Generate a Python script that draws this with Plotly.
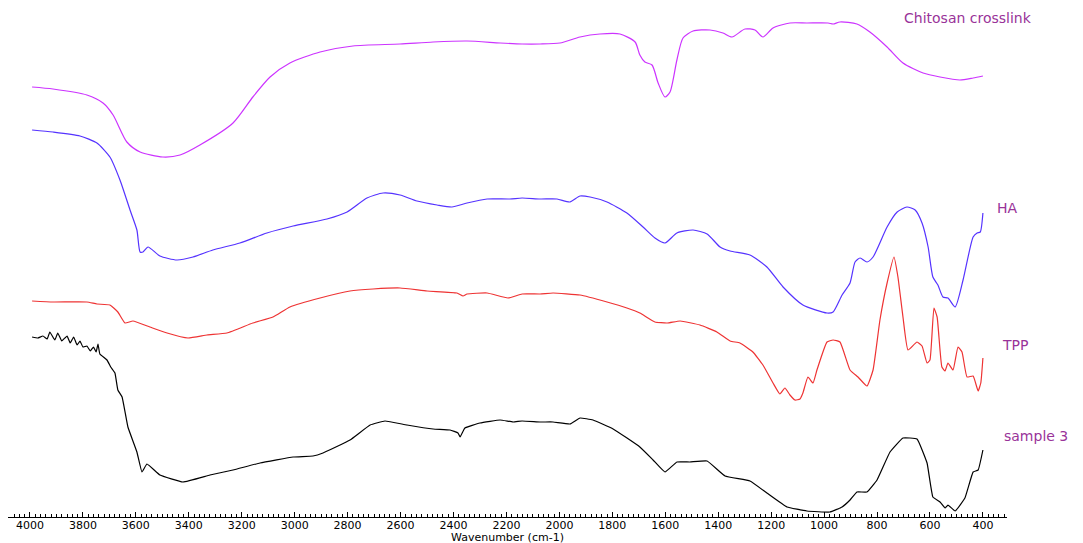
import plotly.graph_objects as go

# ---- data (wavenumber cm-1, offset transmittance a.u.) ----
chitosan_wn = [3992, 3913, 3785, 3724, 3686, 3634, 3584, 3498, 3433, 3358, 3233, 3158, 3093, 3018,
               2904, 2780, 2602, 2477, 2349, 2224, 2141, 2073, 1998, 1922, 1847, 1771, 1714, 1696,
               1677, 1650, 1627, 1601, 1582, 1556, 1533, 1495, 1431, 1382, 1348, 1299, 1261, 1231,
               1193, 1129, 1065, 985, 966, 940, 876, 827, 762, 702, 626, 562, 487, 437, 400]
chitosan_t = [430, 428, 422, 414, 402, 375, 365, 360, 362, 372, 394, 420, 440, 454,
              465, 471, 473, 475, 476, 474, 473, 473, 474, 480, 483, 483, 475, 462,
              455, 452, 434, 420, 425, 457, 479, 486, 487, 484, 480, 488, 487, 480,
              489, 494, 494, 494, 493, 495, 493, 485, 470, 454, 444, 440, 437, 439, 441]

ha_wn = [3992, 3913, 3811, 3747, 3698, 3660, 3622, 3596, 3584, 3573, 3554, 3509, 3445, 3384,
         3309, 3207, 3105, 3006, 2878, 2802, 2727, 2666, 2602, 2538, 2462, 2406, 2349, 2273,
         2187, 2141, 2073, 2009, 1960, 1922, 1884, 1820, 1745, 1684, 1639, 1601, 1556, 1495,
         1442, 1393, 1355, 1280, 1216, 1155, 1080, 989, 966, 932, 902, 883, 864, 838, 815,
         762, 724, 687, 656, 630, 607, 589, 570, 551, 532, 505, 475, 437, 422, 410, 400]
ha_t = [387, 385, 381, 374, 360, 337, 307, 287, 265, 265, 270, 261, 257, 260,
        267, 274, 284, 291, 298, 305, 319, 324, 322, 316, 312, 310, 314, 318,
        318, 319, 318, 318, 315, 321, 320, 315, 304, 290, 279, 274, 284, 287,
        283, 270, 266, 262, 250, 230, 212, 204, 205, 222, 234, 255, 259, 255, 260,
        290, 305, 310, 307, 294, 270, 240, 232, 220, 219, 210, 237, 280, 284, 285, 304]

tpp_wn = [3992, 3913, 3785, 3747, 3698, 3668, 3641, 3611, 3547, 3482, 3403, 3331, 3256, 3158,
          3082, 3018, 2904, 2791, 2704, 2602, 2500, 2387, 2364, 2349, 2273, 2194, 2141, 2073,
          2024, 1922, 1820, 1745, 1696, 1639, 1593, 1544, 1469, 1405, 1355, 1318, 1269, 1231,
          1193, 1167, 1148, 1129, 1110, 1091, 1080, 1061, 1042, 1027, 989, 966, 940, 902, 872,
          838, 815, 789, 762, 736, 721, 702, 683, 649, 630, 611, 600, 585, 573, 555, 543, 532,
          513, 494, 479, 460, 437, 418, 408, 400]
tpp_t = [216, 215, 215, 213, 212, 205, 194, 196, 190, 184, 179, 182, 184, 194,
         200, 210, 219, 226, 228, 229, 226, 224, 221, 223, 224, 219, 223, 223,
         224, 222, 215, 209, 204, 195, 194, 196, 192, 185, 176, 174, 165, 152,
         134, 123, 129, 122, 117, 118, 124, 140, 134, 147, 175, 177, 175, 147, 140,
         131, 147, 197, 234, 260, 240, 200, 167, 175, 171, 154, 157, 209, 200, 150, 146, 154,
         147, 170, 165, 140, 141, 126, 134, 159]

s3_wn = [3992, 3970, 3951, 3935, 3925, 3906, 3895, 3880, 3860, 3848, 3835, 3822, 3811, 3800,
         3785, 3772, 3760, 3750, 3743, 3736, 3709, 3695, 3679, 3668, 3652, 3630, 3596, 3577,
         3558, 3509, 3422, 3320, 3233, 3131, 3006, 2931, 2893, 2791, 2715, 2659, 2576, 2477,
         2413, 2383, 2375, 2357, 2300, 2224, 2175, 2141, 2073, 2024, 1960, 1922, 1873, 1797,
         1696, 1646, 1601, 1556, 1507, 1442, 1374, 1280, 1216, 1140, 1065, 978, 932, 902, 876,
         838, 800, 751, 702, 649, 611, 589, 562, 543, 532, 505, 468, 437, 418, 400]
s3_t = [180, 179, 181, 178, 185, 177, 184, 176, 181, 174, 180, 172, 176, 170,
        171, 166, 170, 165, 173, 163, 157, 150, 144, 127, 120, 90, 65, 45,
        53, 42, 35, 42, 47, 54, 60, 61, 64, 77, 92, 96, 92, 88,
        87, 84, 80, 89, 94, 97, 95, 96, 95, 95, 93, 99, 97, 88,
        70, 57, 45, 55, 55, 56, 41, 36, 24, 10, 6, 5, 10, 17, 25,
        25, 37, 65, 79, 78, 54, 20, 15, 9, 12, 6, 19, 45, 47, 67]

series_names = ["Chitosan crosslink", "HA", "TPP", "sample 3"]
series_colors = ["#cc33ff", "#5533ff", "#ee3333", "#000000"]
series_smooth = [0.7, 0.6, 0.4, 0.3]
label_wn = [706, 354, 335, 328]
label_t = [499, 309, 172, 81]

x_range = [4083, 309]
y_range = [0, 509]
major_ticks = list(range(4000, 399, -200))

fig = go.Figure()
data = [(chitosan_wn, chitosan_t), (ha_wn, ha_t), (tpp_wn, tpp_t), (s3_wn, s3_t)]
for (wn, t), name, col, sm in zip(data, series_names, series_colors, series_smooth):
    fig.add_trace(go.Scatter(x=wn, y=t, mode="lines", name=name,
                             line=dict(color=col, width=1.2, shape="spline", smoothing=sm),
                             showlegend=False))

for name, xw, yt in zip(series_names, label_wn, label_t):
    fig.add_annotation(x=xw, y=yt, text=name, showarrow=False, xanchor="left",
                       yanchor="middle", font=dict(family="DejaVu Sans", size=14, color="#993399"))

fig.add_annotation(x=0.5, y=0, xref="paper", yref="paper", text="Wavenumber (cm-1)",
                   showarrow=False, yanchor="middle", yshift=-20,
                   font=dict(family="DejaVu Sans", size=11, color="#000000"))

fig.update_xaxes(range=x_range, tickmode="array", tickvals=major_ticks,
                 ticktext=[str(v) for v in major_ticks],
                 showline=True, linecolor="#000000", linewidth=1, mirror=False,
                 ticks="inside", ticklen=5, tickcolor="#000000", tickwidth=1,
                 ticklabelstandoff=-2,
                 showgrid=False, zeroline=False,
                 tickfont=dict(family="DejaVu Sans", size=11, color="#000000"),
                 minor=dict(dtick=20, tick0=4000, ticks="inside", ticklen=3,
                            tickcolor="#000000", tickwidth=1, showgrid=False))
fig.update_yaxes(range=y_range, visible=False, showgrid=False, zeroline=False)

fig.update_layout(width=1075, height=535, margin=dict(l=0, r=76, t=0, b=26),
                  paper_bgcolor="white", plot_bgcolor="white")

fig.write_html("out.html")
